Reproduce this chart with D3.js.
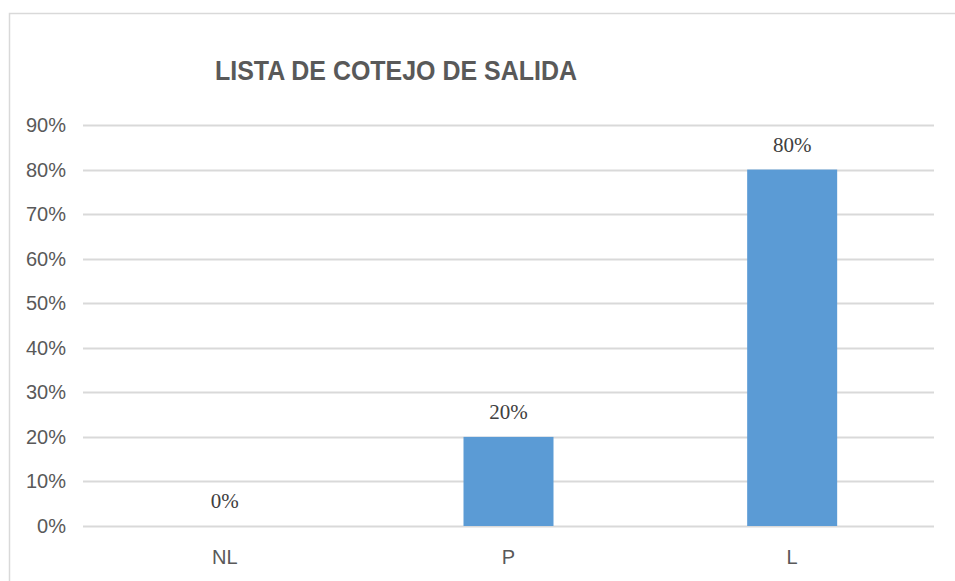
<!DOCTYPE html>
<html>
<head>
<meta charset="utf-8">
<script src="https://cdn.jsdelivr.net/npm/d3@7"></script>
<style>
  body { margin: 0; background: #fff; }
</style>
</head>
<body>
<div id="chart"></div>
<script>
// Data
let categories = ["NL", "P", "L"];
let values = [0, 0.2, 0.8];
let yTicks = [0, 0.1, 0.2, 0.3, 0.4, 0.5, 0.6, 0.7, 0.8, 0.9];
let title = "LISTA DE COTEJO DE SALIDA";

let width = 955, height = 581;
let margin = {left: 83, right: 21, top: 125, bottom: 55};

let svg = d3.select("#chart")
  .append("svg")
  .attr("width", width)
  .attr("height", height);

// chart area border
svg.append("rect")
  .attr("x", 9.5)
  .attr("y", 13.5)
  .attr("width", 960)
  .attr("height", 600)
  .attr("fill", "none")
  .attr("stroke", "#d9d9d9")
  .attr("stroke-width", 1.5);

let x = d3.scaleBand()
  .domain(categories)
  .range([margin.left, width - margin.right])
  .padding(0);

let y = d3.scaleLinear()
  .domain([0, 0.9])
  .range([height - margin.bottom, margin.top]);

// gridlines
svg.selectAll("line.grid")
  .data(yTicks)
  .enter()
  .append("line")
  .attr("class", "grid")
  .attr("x1", margin.left)
  .attr("x2", width - margin.right)
  .attr("y1", d => Math.round(y(d)) + 0.5)
  .attr("y2", d => Math.round(y(d)) + 0.5)
  .attr("stroke", "#d9d9d9")
  .attr("stroke-width", 2);

// y labels
svg.selectAll("text.ytick")
  .data(yTicks)
  .enter()
  .append("text")
  .attr("class", "ytick")
  .attr("x", 66)
  .attr("y", d => y(d) + 7)
  .attr("text-anchor", "end")
  .attr("font-family", "Liberation Sans Narrow, Arial Narrow, Liberation Sans, sans-serif")
  .attr("font-size", 20)
  .attr("fill", "#595959")
  .text(d3.format(".0%"));

// bars
let barW = 90;
svg.selectAll("rect.bar")
  .data(values)
  .enter()
  .append("rect")
  .attr("class", "bar")
  .attr("x", (d, i) => x(categories[i]) + x.bandwidth() / 2 - barW / 2)
  .attr("width", barW)
  .attr("y", d => y(d))
  .attr("height", d => y(0) - y(d))
  .attr("fill", "#5b9bd5");

// data labels
svg.selectAll("text.dlabel")
  .data(values)
  .enter()
  .append("text")
  .attr("class", "dlabel")
  .attr("x", (d, i) => x(categories[i]) + x.bandwidth() / 2)
  .attr("y", d => y(d) - 18)
  .attr("text-anchor", "middle")
  .attr("font-family", "Liberation Serif, Times New Roman, serif")
  .attr("font-size", 21)
  .attr("fill", "#404040")
  .text(d3.format(".0%"));

// category labels
svg.selectAll("text.cat")
  .data(categories)
  .enter()
  .append("text")
  .attr("class", "cat")
  .attr("x", d => x(d) + x.bandwidth() / 2)
  .attr("y", 564)
  .attr("text-anchor", "middle")
  .attr("font-family", "Liberation Sans Narrow, Arial Narrow, Liberation Sans, sans-serif")
  .attr("font-size", 20)
  .attr("fill", "#595959")
  .text(d => d);

// title
svg.append("text")
  .attr("x", 215)
  .attr("y", 80)
  .attr("font-family", "Liberation Sans Narrow, Arial Narrow, Liberation Sans, sans-serif")
  .attr("font-weight", "bold")
  .attr("font-size", 28)
  .attr("fill", "#595959")
  .attr("textLength", 362)
  .attr("lengthAdjust", "spacingAndGlyphs")
  .text(title);
</script>
</body>
</html>
